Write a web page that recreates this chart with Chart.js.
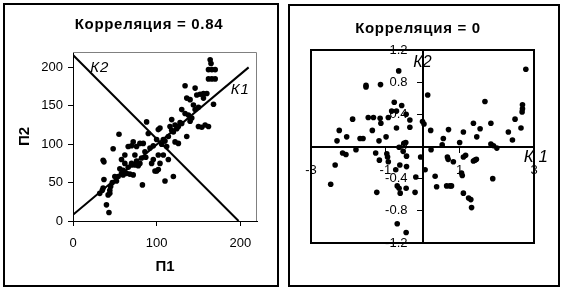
<!DOCTYPE html>
<html>
<head>
<meta charset="utf-8">
<script src="https://cdn.jsdelivr.net/npm/chart.js@4"></script>
<style>
  body { margin: 0; background: #fff; }
  #wrap { position: relative; width: 565px; height: 294px; overflow: hidden; }
  .panel { position: absolute; box-sizing: border-box; border: 2px solid #000; }
  canvas { position: absolute; top: 0; }
</style>
</head>
<body>
<div id="wrap">
  <div class="panel" style="left:3px;top:3px;width:276px;height:284px"></div>
  <div class="panel" style="left:288px;top:4px;width:272px;height:283px"></div>
  <div style="position:absolute;left:0;top:0;width:282px;height:294px"><canvas id="left"></canvas></div>
  <div style="position:absolute;left:282px;top:0;width:283px;height:294px"><canvas id="right"></canvas></div>
</div>
<script>
// left chart: П1 / П2 values
const p1 = [43, 40, 44, 42, 32, 35, 36, 37, 36, 37, 48, 55, 52, 50, 47, 56, 58, 62, 64, 68,
  72, 70, 74, 80, 83, 66, 70, 72, 76, 80, 84, 74, 62, 87, 88, 90, 94, 96, 98, 100,
  102, 104, 102, 108, 100, 102, 104, 108, 112, 114, 110, 120, 114, 116, 118, 122, 126, 122, 126, 130,
  130, 134, 136, 138, 142, 146, 134, 136, 140, 144, 146, 148, 152, 156, 160, 150, 154, 158, 162, 168,
  164, 165, 162, 166, 170, 162, 166, 170, 45, 54, 58, 60, 66, 76, 82, 86, 92, 96, 106, 110,
  118, 120, 124, 128, 140, 150, 156, 70, 78, 44, 60];
const p2 = [11, 21, 36, 34, 36, 40, 43, 54, 79, 77, 94, 113, 52, 58, 50, 68, 80, 75, 62, 61,
  60, 73, 73, 75, 47, 97, 98, 103, 97, 101, 101, 86, 86, 83, 129, 114, 75, 80, 65, 65,
  67, 75, 86, 86, 106, 119, 121, 106, 97, 80, 52, 58, 110, 123, 132, 125, 123, 103, 101, 127,
  145, 140, 110, 138, 134, 145, 176, 160, 158, 151, 173, 164, 165, 166, 166, 123, 122, 125, 123, 152,
  210, 205, 197, 197, 197, 185, 185, 185, 45, 58, 62, 66, 70, 78, 82, 90, 95, 98, 100, 104,
  118, 116, 120, 128, 130, 148, 160, 75, 72, 40, 60];
// principal axes drawn on the left chart
const k1Line = [[0, 8], [210, 200]];
const k2Line = [[0, 216], [198, 0]];

// right chart: К1 / К2 values
const k1 = [2.78, -0.64, -1.52, -1.52, -1.13, 0.14, 1.68, -0.76, -0.56, -0.70, -0.83, -0.44, -1.46, -1.32, -1.14, -1.12, -0.92, -1.88, -0.34, 0.00,
  0.04, 2.69, 2.69, 2.68, 2.49, 2.65, 2.31, 2.42, 1.37, 1.84, 1.55, 1.46, -2.24, -2.30, -2.04, -1.68, -1.60, -1.35, -1.17, -0.98,
  -0.70, -0.34, 0.22, 0.70, 1.10, 0.56, 1.00, 0.53, 1.84, 1.91, 2.00, -0.50, -0.45, -0.63, -2.15, -2.06, -1.79, -1.26, -0.96, -0.94,
  -1.16, -0.52, -0.43, -0.05, 0.23, 0.67, 0.69, 0.83, 1.10, 1.16, 1.45, 1.41, 1.37, -2.35, -2.47, -0.92, -0.61, -0.72, -0.43, -0.18,
  0.07, 0.34, 0.38, 0.65, 0.74, 0.78, 1.05, 1.07, 1.89, -0.68, -0.63, -0.60, -1.23, -0.44, -0.20, 1.10, 1.24, 1.30, 1.32, -0.68, -0.44];
const k2 = [0.96, 0.94, 0.76, 0.74, 0.77, 0.64, 0.56, 0.55, 0.51, 0.44, 0.44, 0.40, 0.36, 0.36, 0.35, 0.29, 0.36, 0.34, 0.33, 0.31,
  0.28, 0.52, 0.47, 0.43, 0.34, 0.23, 0.18, 0.08, 0.29, 0.29, 0.22, 0.12, 0.20, 0.07, 0.12, 0.10, 0.10, 0.20, 0.07, 0.12,
  0.23, 0.24, 0.20, 0.21, 0.18, 0.10, 0.05, 0.02, 0.03, 0.01, -0.02, 0.04, 0.05, -0.01, -0.08, -0.10, -0.04, -0.08, -0.09, -0.13,
  -0.17, -0.06, -0.12, -0.13, -0.04, -0.13, -0.16, -0.19, -0.13, -0.11, -0.16, -0.17, -0.18, -0.23, -0.47, -0.19, -0.23, -0.29, -0.25, -0.38,
  -0.29, -0.37, -0.50, -0.49, -0.49, -0.49, -0.33, -0.36, -0.40, -0.49, -0.52, -0.58, -0.57, -0.52, -0.57, -0.58, -0.64, -0.66, -0.76, -0.96, -1.07];

const FONT = '"Liberation Sans", Arial, sans-serif';
Chart.defaults.font.family = FONT;
Chart.defaults.color = '#000';

const pts = (xs, ys) => xs.map((x, i) => ({ x: x, y: ys[i] }));

// free text (titles and axis names К1/К2) placed in data units
function textPlugin(items) {
  return {
    id: 'texts',
    afterDraw(chart) {
      const ctx = chart.ctx;
      ctx.save();
      ctx.fillStyle = '#000';
      ctx.textAlign = 'center';
      ctx.textBaseline = 'middle';
      items.forEach(t => {
        ctx.font = t.font;
        ctx.letterSpacing = t.spacing || '0px';
        let x = t.px, y = t.py;
        if (t.data) {
          x = chart.scales.x.getPixelForValue(t.data[0]);
          y = chart.scales.y.getPixelForValue(t.data[1]);
        }
        ctx.fillText(t.text, x, y);
      });
      ctx.restore();
    }
  };
}

const noPad = s => { s.paddingLeft = s.paddingRight = s.paddingTop = s.paddingBottom = 0; };

// ---- left chart ----
const greyFrame = {
  id: 'greyFrame',
  beforeDatasetsDraw(chart) {
    const a = chart.chartArea, ctx = chart.ctx;
    ctx.save();
    ctx.strokeStyle = '#808080';
    ctx.lineWidth = 1;
    ctx.beginPath();
    ctx.moveTo(a.left, a.top + 0.5);
    ctx.lineTo(a.right - 0.5, a.top + 0.5);
    ctx.lineTo(a.right - 0.5, a.bottom);
    ctx.stroke();
    ctx.restore();
  }
};

new Chart(document.getElementById('left'), {
  type: 'scatter',
  data: {
    datasets: [
      { data: pts(p1, p2), backgroundColor: '#000', borderColor: '#000', pointRadius: 2.8, pointBorderWidth: 0 },
      { data: k1Line.map(p => ({ x: p[0], y: p[1] })), showLine: true, borderColor: '#000', borderWidth: 2, pointRadius: 0 },
      { data: k2Line.map(p => ({ x: p[0], y: p[1] })), showLine: true, borderColor: '#000', borderWidth: 2, pointRadius: 0 }
    ]
  },
  options: {
    responsive: true,
    maintainAspectRatio: false,
    animation: false,
    layout: { padding: { left: 10, right: 25, top: 52, bottom: 10 } },
    plugins: { legend: { display: false }, tooltip: { enabled: false } },
    scales: {
      x: {
        type: 'linear', min: 0, max: 220,
        ticks: { stepSize: 100, includeBounds: false, padding: 10, font: { size: 13 } },
        grid: { drawOnChartArea: false, drawTicks: true, tickLength: 5, color: '#000' },
        border: { display: true, color: '#000', width: 1 },
        title: { display: true, text: 'П1', font: { size: 15, weight: 'bold' }, padding: { top: 0, bottom: 8 } },
        afterFit(s) { s.height = 63; noPad(s); }
      },
      y: {
        type: 'linear', min: 0, max: 220,
        ticks: { stepSize: 50, includeBounds: false, padding: 5, font: { size: 13 } },
        grid: { drawOnChartArea: false, drawTicks: true, tickLength: 5, color: '#000' },
        border: { display: true, color: '#000', width: 1 },
        title: { display: true, text: 'П2', font: { size: 15, weight: 'bold' }, padding: { top: 6, bottom: 0 } },
        afterFit(s) { s.width = 63; noPad(s); }
      }
    }
  },
  plugins: [greyFrame, textPlugin([
    { text: 'Корреляция = 0.84', px: 149, py: 25, font: 'bold 15px ' + FONT, spacing: '0.7px' },
    { text: 'К2', data: [32, 199], font: 'italic 15px ' + FONT, spacing: '1px' },
    { text: 'К1', data: [200, 171], font: 'italic 15px ' + FONT, spacing: '1px' }
  ])]
});

// ---- right chart ----
const blackBox = {
  id: 'blackBox',
  beforeDatasetsDraw(chart) {
    const a = chart.chartArea, ctx = chart.ctx;
    ctx.save();
    ctx.strokeStyle = '#000';
    ctx.lineWidth = 2;
    ctx.strokeRect(a.left, a.top, a.right - a.left, a.bottom - a.top);
    ctx.restore();
  }
};

new Chart(document.getElementById('right'), {
  type: 'scatter',
  data: {
    datasets: [
      { data: pts(k1, k2), backgroundColor: '#000', borderColor: '#000', pointRadius: 2.8, pointBorderWidth: 0 }
    ]
  },
  options: {
    responsive: true,
    maintainAspectRatio: false,
    animation: false,
    layout: { padding: { left: 29, right: 31, top: 50, bottom: 51 } },
    plugins: { legend: { display: false }, tooltip: { enabled: false } },
    scales: {
      x: {
        type: 'linear', position: 'center', min: -3, max: 3,
        ticks: { stepSize: 2, padding: 11, font: { size: 13 } },
        grid: { drawOnChartArea: false, drawTicks: true, tickLength: 5, color: '#000' },
        border: { display: true, color: '#000', width: 2 },
        afterFit: noPad
      },
      y: {
        type: 'linear', position: 'center', min: -1.2, max: 1.2,
        ticks: { stepSize: 0.4, padding: 10, font: { size: 13 } },
        grid: { drawOnChartArea: false, drawTicks: true, tickLength: 5, color: '#000' },
        border: { display: true, color: '#000', width: 2 },
        afterFit: noPad
      }
    }
  },
  plugins: [blackBox, textPlugin([
    { text: 'Корреляция = 0', px: 136, py: 29, font: 'bold 15px ' + FONT, spacing: '0.7px' },
    { text: 'К2', data: [0, 1.04], font: 'italic 16px ' + FONT },
    { text: 'К 1', data: [3.05, -0.14], font: 'italic 17px ' + FONT }
  ])]
});
</script>
</body>
</html>
